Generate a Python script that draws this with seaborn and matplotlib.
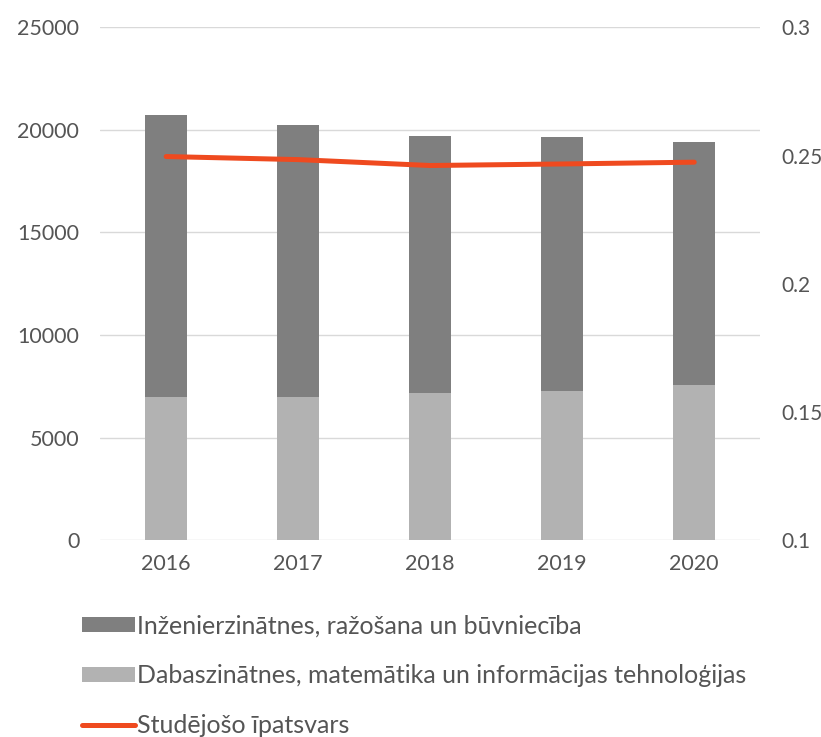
import numpy as np
import matplotlib.pyplot as plt
import seaborn as sns
import pandas as pd

years = ["2016", "2017", "2018", "2019", "2020"]
# students by field (stacked: natural sciences at bottom, engineering on top)
eng_total = [20730, 20240, 19720, 19630, 19430]   # top of dark bar (stack total)
nat_sci = [6980, 6980, 7160, 7260, 7550]
share = [0.2496, 0.2484, 0.2461, 0.2467, 0.2474]

left_ticks = [0, 5000, 10000, 15000, 20000, 25000]
right_ticks = [0.1, 0.15, 0.2, 0.25, 0.3]
right_labels = ["0.1", "0.15", "0.2", "0.25", "0.3"]

lbl_eng = "Inženierzinātnes, ražošana un būvniecība"
lbl_nat = "Dabaszinātnes, matemātika un informācijas tehnoloģijas"
lbl_share = "Studējošo īpatsvars"

dark = "#7f7f7f"
light = "#b2b2b2"
red = "#ef4a1f"
txt = "#555555"

sns.set_style("white")
plt.rcParams["font.family"] = ["Lato", "DejaVu Sans"]
plt.rcParams["text.color"] = txt

df = pd.DataFrame({"year": years, "total": eng_total, "nat": nat_sci})

fig = plt.figure(figsize=(8.21, 7.37), dpi=100)
ax = fig.add_axes([0.122, 0.267, 0.804, 0.696])

sns.barplot(data=df, x="year", y="total", color=dark, width=0.32,
            saturation=1, linewidth=0, ax=ax, label=lbl_eng, zorder=2)
sns.barplot(data=df, x="year", y="nat", color=light, width=0.32,
            saturation=1, linewidth=0, ax=ax, label=lbl_nat, zorder=2)
if ax.get_legend() is not None:
    ax.get_legend().remove()

ax.set_ylim(0, 25000)
ax.set_yticks(left_ticks)
ax.set_yticklabels([str(t) for t in left_ticks])
ax.yaxis.grid(True, color="#d9d9d9", linewidth=1, zorder=0)
ax.set_axisbelow(True)
ax.set_xlabel("")
ax.set_ylabel("")
ax.set_xlim(-0.5, len(years) - 0.5)
ax.tick_params(axis="both", length=0, labelsize=15.5, colors=txt)
ax.tick_params(axis="y", pad=15)
ax.tick_params(axis="x", pad=10)
for s in ax.spines.values():
    s.set_visible(False)

ax2 = ax.twinx()
sns.lineplot(x=np.arange(len(years)), y=share, color=red, linewidth=3.6,
             ax=ax2, label=lbl_share, zorder=3)
ax2.set_ylim(0.1, 0.3)
ax2.set_yticks(right_ticks)
ax2.set_yticklabels(right_labels)
ax2.tick_params(axis="y", length=0, labelsize=15, colors=txt, pad=15)
for s in ax2.spines.values():
    s.set_visible(False)
ax2.get_legend().remove()

h1, l1 = ax.get_legend_handles_labels()
h2, l2 = ax2.get_legend_handles_labels()
leg = fig.legend(h1 + h2, l1 + l2, loc="upper left",
                 bbox_to_anchor=(0.088, 0.18), frameon=False, fontsize=18,
                 handlelength=2.1, handleheight=0.55, handletextpad=0.1,
                 labelspacing=1.08, borderaxespad=0)
for t in leg.get_texts():
    t.set_color(txt)

fig.savefig("out.png", dpi=100)
